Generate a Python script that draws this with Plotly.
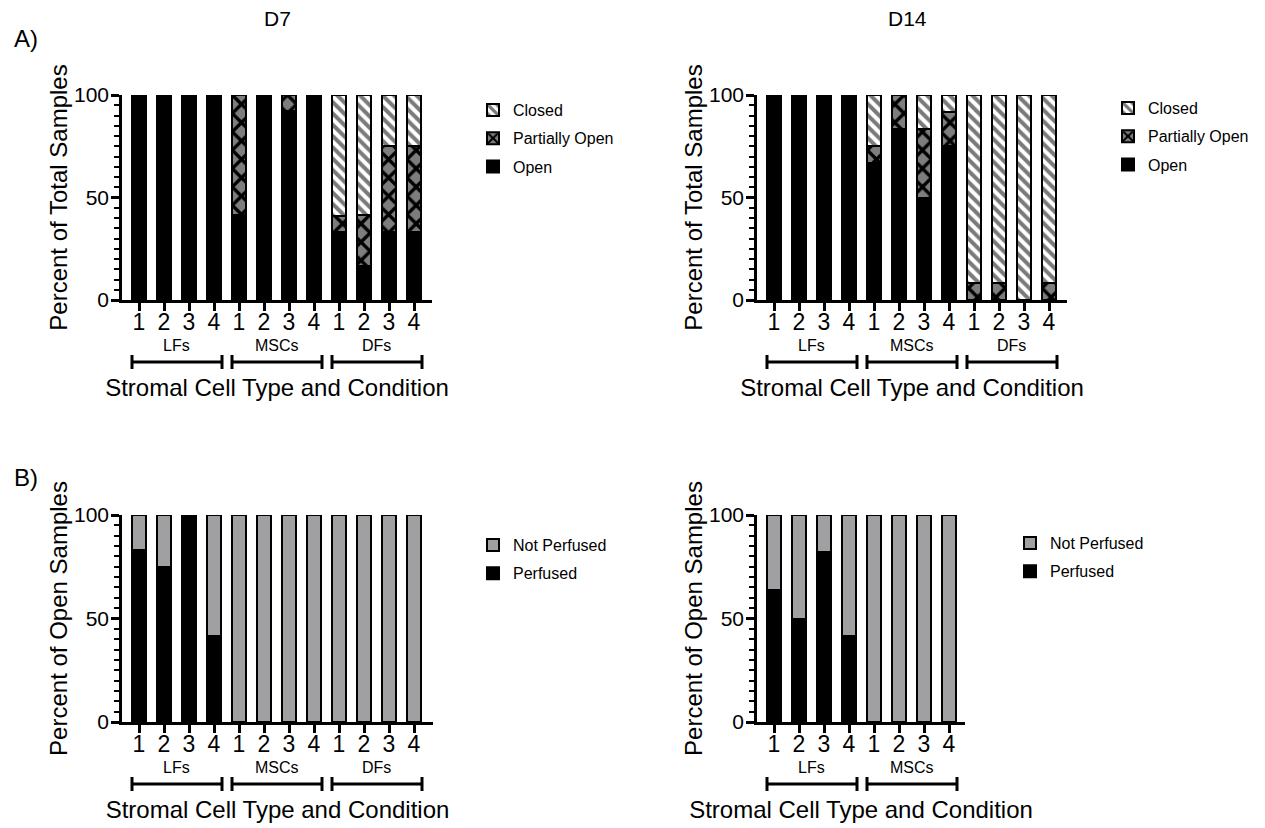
import plotly.graph_objects as go

# ---------------- data ----------------
groups_all = ["LFs", "MSCs", "DFs"]
groups_b14 = ["LFs", "MSCs"]
conditions = ["1", "2", "3", "4"]

# A) D7 - percent of total samples
d7_open = [100, 100, 100, 100, 41.7, 100, 92, 100, 33.3, 16.7, 33.3, 33.3]
d7_partial = [0, 0, 0, 0, 58.3, 0, 8, 0, 7.5, 25, 41.7, 41.7]
d7_closed = [0, 0, 0, 0, 0, 0, 0, 0, 59.2, 58.3, 25, 25]

# A) D14 - percent of total samples
d14_open = [100, 100, 100, 100, 66.7, 83.3, 50, 75, 0, 0, 0, 0]
d14_partial = [0, 0, 0, 0, 8.3, 16.7, 33.3, 16.7, 8.3, 8.3, 0, 8.3]
d14_closed = [0, 0, 0, 0, 25, 0, 16.7, 8.3, 91.7, 91.7, 100, 91.7]

# B) D7 - percent of open samples
b7_perfused = [83.3, 75, 100, 41.7, 0, 0, 0, 0, 0, 0, 0, 0]
b7_not = [16.7, 25, 0, 58.3, 100, 100, 100, 100, 100, 100, 100, 100]

# B) D14 - percent of open samples
b14_perfused = [63.6, 50, 82, 41.7, 0, 0, 0, 0]
b14_not = [36.4, 50, 18, 58.3, 100, 100, 100, 100]

y_ticks = [0, 50, 100]

# ---------------- styling ----------------
PAGE_W, PAGE_H = 1265, 828
OFF = 8  # default body margin of the html page
W, H = PAGE_W - OFF, PAGE_H - OFF
FONT = "Arial, Liberation Sans, Helvetica, sans-serif"
BLACK = "#000000"
GRAY = "#a0a0a3"
BAR_W = 0.58
LINE = dict(color=BLACK, width=2)

fig = go.Figure()


def px_x(p):
    return (p - OFF) / W


def px_y(p):
    return 1 - (p - OFF) / H


# subplot pixel geometry (page pixels): left, right, top(=100), bottom(=0)
panels = {
    "a7": dict(xa="x", ya="y", l=122, r=432, t=95, b=300, groups=groups_all, leg="legend"),
    "a14": dict(xa="x2", ya="y2", l=757, r=1067, t=95, b=300, groups=groups_all, leg="legend2"),
    "b7": dict(xa="x3", ya="y3", l=122, r=433, t=515, b=722, groups=groups_all, leg="legend3"),
    "b14": dict(xa="x4", ya="y4", l=757, r=965, t=515, b=722, groups=groups_b14, leg="legend4"),
}

closed_pat = dict(shape="\\", bgcolor="white", fgcolor="#7a7a7a", size=8, solidity=0.5, fillmode="replace")
partial_pat = dict(shape="x", bgcolor="#7d7d7d", fgcolor=BLACK, size=13, solidity=0.45, fillmode="replace")


def add_bar(panel, name, values, color, rank, pattern=None):
    p = panels[panel]
    xs = list(range(len(values)))
    marker = dict(color=color, line=LINE)
    if pattern:
        marker["pattern"] = pattern
    fig.add_trace(go.Bar(
        x=xs, y=values, name=name, width=BAR_W, marker=marker,
        xaxis=p["xa"], yaxis=p["ya"], legend=p["leg"], legendrank=rank,
        legendgroup=panel + name, cliponaxis=False,
        hovertemplate="%{y}<extra>" + name + "</extra>",
    ))


add_bar("a7", "Open", d7_open, BLACK, 3)
add_bar("a7", "Partially Open", d7_partial, "#7d7d7d", 2, partial_pat)
add_bar("a7", "Closed", d7_closed, "white", 1, closed_pat)
add_bar("a14", "Open", d14_open, BLACK, 3)
add_bar("a14", "Partially Open", d14_partial, "#7d7d7d", 2, partial_pat)
add_bar("a14", "Closed", d14_closed, "white", 1, closed_pat)
add_bar("b7", "Perfused", b7_perfused, BLACK, 2)
add_bar("b7", "Not Perfused", b7_not, GRAY, 1)
add_bar("b14", "Perfused", b14_perfused, BLACK, 2)
add_bar("b14", "Not Perfused", b14_not, GRAY, 1)

layout = dict(
    width=W, height=H, margin=dict(l=0, r=0, t=0, b=0, autoexpand=False),
    paper_bgcolor="white", plot_bgcolor="white",
    barmode="stack", font=dict(family=FONT, color=BLACK),
    showlegend=True,
)

shapes = []
annotations = []

for key, p in panels.items():
    n = len(p["groups"]) * len(conditions)
    xname = "xaxis" + p["xa"][1:]
    yname = "yaxis" + p["ya"][1:]
    unit = 25.0
    x0 = -(17.0 / unit)
    x1 = x0 + (p["r"] - p["l"]) / unit
    layout[xname] = dict(
        domain=[px_x(p["l"]), px_x(p["r"])], anchor=p["ya"], range=[x0, x1],
        tickmode="array", tickvals=list(range(n)), ticktext=conditions * len(p["groups"]),
        ticks="outside", ticklen=8, tickwidth=2.5, tickcolor=BLACK, ticklabelstandoff=-8,
        showline=True, linecolor=BLACK, linewidth=2.5, showgrid=False, zeroline=False,
        tickfont=dict(size=23, family=FONT, color=BLACK), fixedrange=True, automargin=False,
        title=dict(text="Stromal Cell Type and Condition", font=dict(size=24, family=FONT, color=BLACK), standoff=45),
    )
    ytitle = "Percent of Total Samples" if key.startswith("a") else "Percent of Open Samples"
    layout[yname] = dict(
        domain=[px_y(p["b"]), px_y(p["t"])], anchor=p["xa"], range=[0, 100],
        tickmode="array", tickvals=y_ticks,
        ticks="outside", ticklen=8, tickwidth=2.5, tickcolor=BLACK, ticklabelstandoff=-2,
        minor=dict(tickmode="linear", tick0=0, dtick=5, ticks="outside", ticklen=5, tickwidth=2,
                   tickcolor=BLACK, showgrid=False),
        showline=True, linecolor=BLACK, linewidth=2.5, showgrid=False, zeroline=False,
        tickfont=dict(size=21, family=FONT, color=BLACK), fixedrange=True, automargin=False,
        title=dict(text=ytitle, font=dict(size=24, family=FONT, color=BLACK), standoff=0),
    )
    # group labels and brackets
    hdom = p["b"] - p["t"]
    lab_y = -45.0 / hdom
    br_y = -62.0 / hdom
    cap = 7.0 / hdom
    for gi, g in enumerate(p["groups"]):
        s = gi * 4
        e = s + 3
        annotations.append(dict(
            x=(s + e) / 2, y=lab_y, xref=p["xa"], yref=p["ya"] + " domain",
            text=g, showarrow=False, font=dict(size=16, family=FONT, color=BLACK),
            xanchor="center", yanchor="middle",
        ))
        xa0, xa1 = s - 0.28, e + 0.32
        shapes.append(dict(type="line", xref=p["xa"], yref=p["ya"] + " domain",
                           x0=xa0, x1=xa1, y0=br_y, y1=br_y, line=dict(color=BLACK, width=3)))
        for xx in (xa0, xa1):
            shapes.append(dict(type="line", xref=p["xa"], yref=p["ya"] + " domain",
                               x0=xx, x1=xx, y0=br_y - cap, y1=br_y + cap, line=dict(color=BLACK, width=3)))

# titles and panel letters
for txt, xp, yp, sz in [("D7", 277, 18, 21), ("D14", 907, 18, 21), ("A)", 26, 38, 24), ("B)", 26, 478, 24)]:
    annotations.append(dict(x=px_x(xp), y=px_y(yp), xref="paper", yref="paper", text=txt,
                            showarrow=False, xanchor="center", yanchor="middle",
                            font=dict(size=sz, family=FONT, color=BLACK)))

leg_common = dict(traceorder="grouped", xanchor="left", yanchor="top", bgcolor="rgba(0,0,0,0)",
                  font=dict(size=16, family=FONT, color=BLACK), tracegroupgap=4.5, itemclick=False,
                  itemdoubleclick=False)
layout["legend"] = dict(x=px_x(473), y=px_y(93), **leg_common)
layout["legend2"] = dict(x=px_x(1108), y=px_y(91), **leg_common)
layout["legend3"] = dict(x=px_x(473), y=px_y(528), **leg_common)
layout["legend4"] = dict(x=px_x(1010), y=px_y(526), **leg_common)

layout["shapes"] = shapes
layout["annotations"] = annotations
fig.update_layout(**layout)

fig.write_html("out.html")
